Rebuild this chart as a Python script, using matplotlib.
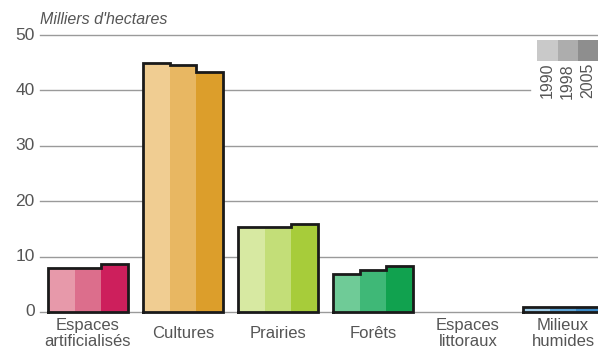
import matplotlib.pyplot as plt
import numpy as np

# land use change, thousands of hectares
categories = ["Espaces\nartificialisés", "Cultures", "Prairies", "Forêts",
              "Espaces\nlittoraux", "Milieux\nhumides"]
years = ["1990", "1998", "2005"]
values = np.array([
    [8.0, 8.0, 8.7],
    [44.9, 44.5, 43.3],
    [15.3, 15.3, 15.8],
    [6.9, 7.6, 8.3],
    [0.0, 0.0, 0.0],
    [0.9, 0.9, 0.9],
])
shades = [
    ["#e799aa", "#dc6e8c", "#cd1f5c"],
    ["#f0cd92", "#e8b762", "#dc9e2b"],
    ["#d7e9a2", "#c3de78", "#a7cc3a"],
    ["#6fcb97", "#3fb877", "#11a24f"],
    ["#ffffff", "#ffffff", "#ffffff"],
    ["#9fcbe6", "#5ea3d4", "#3a88c4"],
]
legend_grays = ["#c9c9c9", "#adadad", "#8e8e8e"]

plt.rcParams['font.family'] = ['Liberation Sans', 'DejaVu Sans']
txt = "#555555"

fig = plt.figure(figsize=(5.98, 3.51), dpi=100)
ax = fig.add_axes([40 / 598, 39 / 351, 558 / 598, 277 / 351])
ax.set_xlim(-0.505, 5.368)
ax.set_ylim(0, 50)

for y in range(0, 51, 10):
    xmax = 1 if y != 40 else (530 - 40) / 558
    ax.axhline(y, xmin=0, xmax=xmax, color="#9a9a9a", lw=1.0, zorder=0, clip_on=False)
    ax.text(-0.56, y, str(y), ha="right", va="center", fontsize=12.5, color=txt)

group_w = 0.84
bw = group_w / 3
for i, row in enumerate(values):
    if row.max() <= 0:
        continue
    left = i - group_w / 2
    for j, v in enumerate(row):
        ax.bar(left + j * bw, v, width=bw, align="edge", color=shades[i][j],
               lw=0, zorder=2)
    # outline around the group as a step line
    xs = [left]
    ys = [0]
    for j, v in enumerate(row):
        xs += [left + j * bw, left + (j + 1) * bw]
        ys += [v, v]
    xs += [left + group_w, left]
    ys += [0, 0]
    ax.plot(xs, ys, color="#1a1a1a", lw=2, zorder=3, solid_joinstyle="miter",
            clip_on=False)

for i, lab in enumerate(categories):
    ax.text(i, -3.9, lab, ha="center", va="center", fontsize=12, color=txt,
            linespacing=1.05)

ax.set_axis_off()

fig.text(40 / 598, 1 - 19 / 351, "Milliers d'hectares", ha="left", va="center",
         fontsize=11.5, style="italic", color=txt)

# legend: gray swatches with rotated years
for j, (yr, g) in enumerate(zip(years, legend_grays)):
    x0 = 537 + j * 20.5
    fig.patches.append(plt.Rectangle((x0 / 598, 1 - 61 / 351), 20.5 / 598, 21 / 351,
                                     transform=fig.transFigure, color=g, lw=0))
    fig.text((x0 + 10) / 598, 1 - 63 / 351, yr, rotation=90, ha="center", va="top",
             fontsize=11.5, color=txt)

fig.savefig("out.png", dpi=100)
